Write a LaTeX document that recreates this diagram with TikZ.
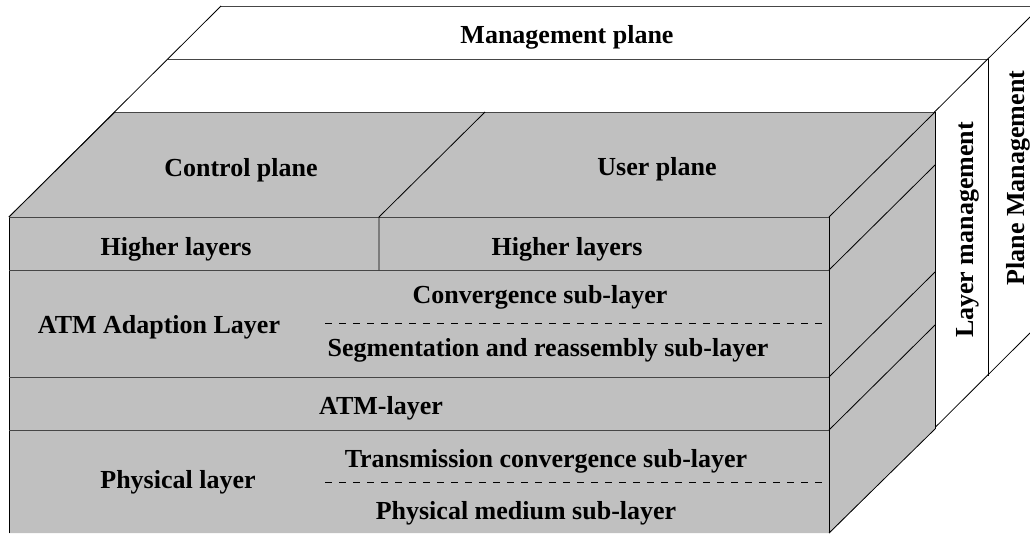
\documentclass[tikz,border=0pt]{standalone}
\usepackage{fontspec}
\setmainfont{Liberation Serif}
\usetikzlibrary{positioning}
\tikzset{every picture/.style={line width=0.8pt}}
\definecolor{slab}{RGB}{192,192,192}
\definecolor{rim}{RGB}{70,70,70}

\begin{document}
\begin{tikzpicture}[x=1pt,y=-1pt,
    lbl/.style={font=\fontsize{26}{30}\selectfont\bfseries, inner sep=0pt, anchor=base},
    rimline/.style={draw=rim},
    subline/.style={line width=0.6pt, dash pattern=on 7pt off 7pt}]
  \useasboundingbox (0,0) rectangle (1030,533);
  % management planes behind
  \draw[rimline] (221,6) -- (1030,6);
  \draw[rimline] (168,59) -- (988,59);
  \draw (988,59) -- (988,376);
  \draw (9,217) -- (221,6);
  \draw (829,217) -- (1030,17);
  \draw (829,533) -- (1030,333);
  % grey block
  \fill[slab] (9,217) -- (115,112) -- (935,112) -- (935,429) -- (829,533) -- (9,533) -- cycle;
  \draw (9,533) -- (9,217);
  \draw (829,217) -- (829,533);
  \draw (935,112) -- (935,429);
  \draw[rimline] (115,112) -- (935,112);
  \draw[rimline] (9,217) -- (829,217);
  \draw (9,217) -- (115,112);
  \draw (829,217) -- (935,112);
  \draw (829,533) -- (935,429);
  % layer borders
  \foreach \y in {270,377,430} {
    \draw[rimline] (9,\y) -- (829,\y);
    \draw (829,\y) -- (935,\y-105);
  }
  \draw (379,112) ++(106,0) -- (379,217) -- (379,270);
  \draw[subline] (325,323) -- (829,323);
  \draw[subline] (325,482) -- (829,482);
  % texts
  \path (567,43) node[lbl] (mgmt) {Management plane};
  \path (241,176) node[lbl] (ctrl) {Control plane};
  \path (657,175) node[lbl] (user) {User plane};
  \path (176,255) node[lbl] (hictrl) {Higher layers};
  \path (567,255) node[lbl] (hiuser) {Higher layers};
  \path (159,333) node[lbl] (aal) {ATM Adaption Layer};
  \path (540,303) node[lbl] (cs) {Convergence sub-layer};
  \path (548,356) node[lbl] (sar) {Segmentation and reassembly sub-layer};
  \path (381,414) node[lbl] (atm) {ATM-layer};
  \path (178,488) node[lbl] (phy) {Physical layer};
  \path (546,467) node[lbl] (tc) {Transmission convergence sub-layer};
  \path (526,519) node[lbl] (pm) {Physical medium sub-layer};
  \path (973,230) node[lbl,rotate=90] (layermgmt) {Layer management};
  \path (1024,178) node[lbl,rotate=90] (planemgmt) {Plane Management};
\end{tikzpicture}
\end{document}
